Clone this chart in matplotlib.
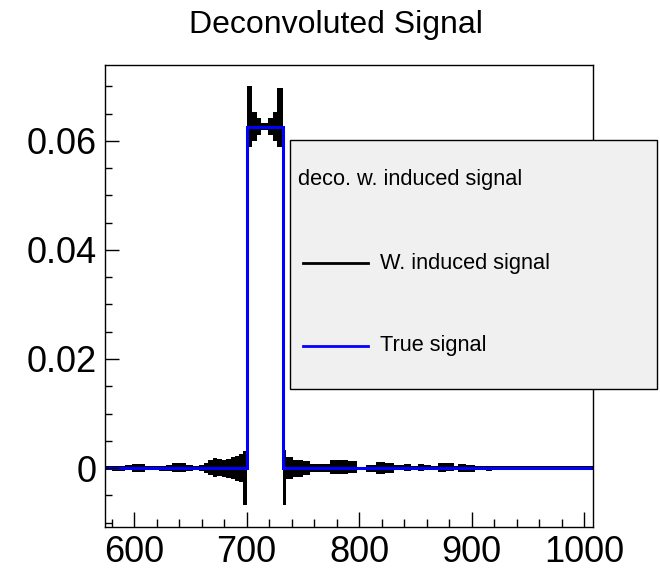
import numpy as np
import matplotlib
matplotlib.use("Agg")
import matplotlib.pyplot as plt
from matplotlib.patches import Rectangle
from matplotlib.lines import Line2D

plt.rcParams['font.family'] = ['Liberation Sans', 'DejaVu Sans']

# deconvoluted signal: step envelope (upper / lower)
left_edges = [574, 580, 586, 592, 598, 604, 610, 616, 622, 628, 634, 640, 646,
              652, 658, 662, 666, 670, 674, 678, 682, 686, 690, 693, 697]
left_upper = [0.3, 0.4, 0.3, 0.5, 0.8, 0.7, 0.3, 0.3, 0.4, 0.6, 0.9, 1.0, 0.5,
              0.3, 0.6, 1.0, 1.4, 1.8, 1.6, 1.4, 1.7, 2.0, 2.3, 2.6, 3.2]
left_lower = [-0.3, -0.5, -0.6, -0.3, -0.7, -0.7, -0.3, -0.3, -0.5, -0.6, -0.7, -0.8, -0.5,
              -0.3, -0.6, -0.9, -1.3, -1.6, -1.5, -1.6, -1.8, -2.0, -2.3, -2.6, -6.8]

mid_edges = [700, 705, 709, 713, 719, 723, 727]
mid_upper = [70.0, 65.2, 64.1, 63.3, 64.1, 65.2, 69.7]
mid_lower = [58.9, 60.0, 61.1, 61.9, 61.1, 60.0, 58.9]

right_edges = [732, 735, 741, 750, 756, 764, 774, 782, 790, 798, 806, 815, 823,
               831, 840, 846, 852, 858, 864, 870, 877, 884, 888, 895, 903, 913,
               918, 930, 945, 960, 975, 990, 1008]
right_upper = [3.4, 2.0, 1.5, 1.3, 0.8, 0.8, 1.4, 1.5, 1.3, 0.2, 0.5, 1.1, 1.0,
               0.5, 0.8, 0.4, 0.8, 0.5, 0.4, 0.9, 1.0, 0.4, 0.7, 0.6, 0.3, 0.3,
               0.3, 0.4, 0.3, 0.3, 0.4, 0.3]
right_lower = [-6.8, -2.0, -1.7, -1.3, -0.7, -0.7, -1.0, -1.1, -0.9, -0.2, -0.7, -1.0, -0.9,
               -0.4, -0.5, -0.4, -0.5, -0.4, -0.3, -0.7, -0.6, -0.3, -0.7, -0.7, -0.3, -0.6,
               -0.3, -0.3, -0.4, -0.3, -0.3, -0.3]

# true signal
true_edges = [574, 700, 732, 1008]
true_vals = [0, 0.0625, 0]

edges = np.array(left_edges + mid_edges + right_edges, dtype=float)
upper = np.array(left_upper + mid_upper + right_upper) * 1e-3
lower = np.array(left_lower + mid_lower + right_lower) * 1e-3

fig = plt.figure(figsize=(6.6, 5.69), dpi=100)
ax = fig.add_axes([105 / 660, 1 - 527 / 569, 488 / 660, 462 / 569])

ax.stairs(upper, edges, baseline=lower, fill=True, color='black', lw=0)
ax.stairs(true_vals, true_edges, color='blue', lw=2.2)

ax.set_xlim(574, 1008)
ax.set_ylim(-0.0108, 0.0739)
ax.set_xticks([600, 700, 800, 900, 1000])
ax.set_xticks(np.arange(580, 1008, 20), minor=True)
ax.set_yticks([0, 0.02, 0.04, 0.06])
ax.set_yticklabels(['0', '0.02', '0.04', '0.06'])
ax.set_yticks(np.arange(-0.01, 0.074, 0.005), minor=True)
ax.tick_params(axis='both', which='both', direction='in', labelsize=26, top=False, right=False)
ax.tick_params(axis='x', which='major', length=10.8, width=1, pad=6)
ax.tick_params(axis='x', which='minor', length=5.8, width=1)
ax.tick_params(axis='y', which='major', length=10, width=1, pad=6)
ax.tick_params(axis='y', which='minor', length=5, width=1)
for s in ax.spines.values():
    s.set_linewidth(1.0)

fig.text(336 / 660, 1 - 25 / 569, 'Deconvoluted Signal', ha='center', va='center', fontsize=23)

# legend box
W, H = 660, 569
fig.patches.append(Rectangle((290 / W, 1 - 389 / H), 367 / W, 249 / H, transform=fig.transFigure,
                             facecolor='#f0f0f0', edgecolor='black', lw=1.0, zorder=5))
fig.text(298 / W, 1 - 180 / H, 'deco. w. induced signal', ha='left', va='center', fontsize=15.7, zorder=6)
fig.lines.append(Line2D([303 / W, 368 / W], [1 - 263 / H, 1 - 263 / H], transform=fig.transFigure,
                        color='black', lw=2.0, zorder=6))
fig.text(380 / W, 1 - 263 / H, 'W. induced signal', ha='left', va='center', fontsize=15.7, zorder=6)
fig.lines.append(Line2D([303 / W, 368 / W], [1 - 346 / H, 1 - 346 / H], transform=fig.transFigure,
                        color='blue', lw=2.0, zorder=6))
fig.text(380 / W, 1 - 346 / H, 'True signal', ha='left', va='center', fontsize=15.7, zorder=6)

fig.savefig('out.png', dpi=100)
